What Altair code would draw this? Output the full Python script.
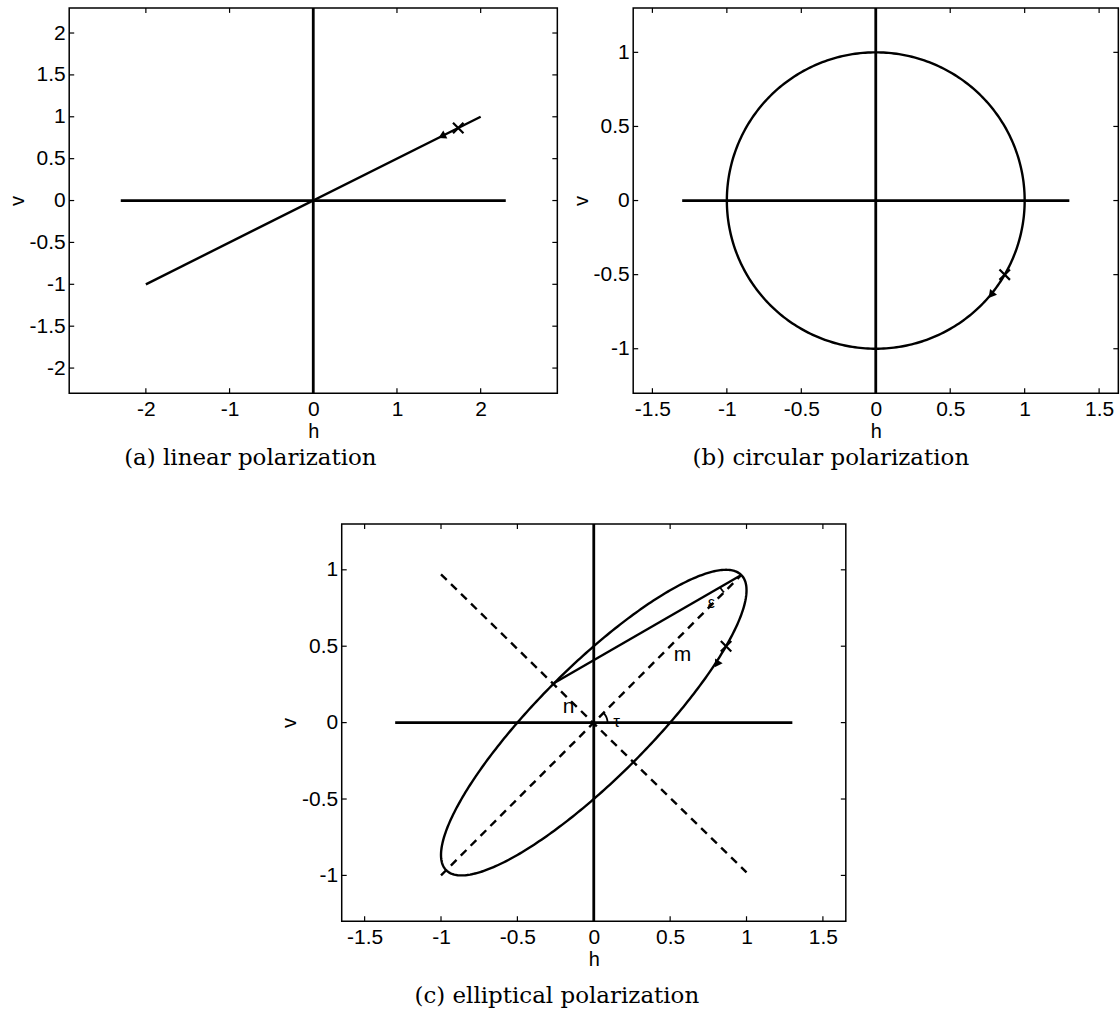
import math
import numpy as np
import pandas as pd
import altair as alt

LABEL_FONT = "Liberation Sans"
CAPTION_FONT = "DejaVu Serif"
INK = "black"
MINUS = "replace(datum.label, '\u2212', '-')"

# ---------------- (a) linear polarization: h = 2 cos t, v = cos t ----------------
a_line_h = [-2.0, 2.0]
a_line_v = [-1.0, 1.0]
a_axis_extent = 2.3
a_cross = (1.732, 0.866)
a_arrow = (1.55, 0.775)
a_arrow_dir = (-2.0, -1.0)
a_xdomain = [-2.916, 2.916]
a_ydomain = [-2.3, 2.3]
a_xticks = [-2, -1, 0, 1, 2]
a_yticks = [-2, -1.5, -1, -0.5, 0, 0.5, 1, 1.5, 2]

# ---------------- (b) circular polarization: h = cos t, v = cos(t - 90 deg) ----------------
b_amp = (1.0, 1.0)
b_phase_deg = 90.0
b_axis_extent = 1.3
b_cross = (0.866, -0.5)
b_arrow = (0.78, -0.63)
b_arrow_dir = (-0.63, -0.78)
b_xdomain = [-1.629, 1.629]
b_ydomain = [-1.3, 1.3]
b_xticks = [-1.5, -1, -0.5, 0, 0.5, 1, 1.5]
b_yticks = [-1, -0.5, 0, 0.5, 1]

# ---------------- (c) elliptical polarization: h = cos t, v = cos(t - 30 deg) ----------------
c_amp = (1.0, 1.0)
c_phase_deg = 30.0
c_axis_extent = 1.3
c_major_h = [-1.0, 0.966]
c_major_v = [-1.0, 0.966]
c_minor_h = [-1.0, 1.0]
c_minor_v = [0.97, -0.98]
c_chord_h = [-0.259, 0.966]
c_chord_v = [0.259, 0.966]
c_cross = (0.866, 0.5)
c_arrow = (0.81, 0.39)
c_arrow_dir = (-0.59, -0.91)
c_labels = ["m", "n", "\u03c4", "\u03b5"]
c_label_h = [0.58, -0.165, 0.15, 0.77]
c_label_v = [0.44, 0.105, 0.005, 0.78]
c_label_size = [21, 21, 17, 16]
c_tau_arc = (0.09, 0.0, 45.0)     # radius, start and end angle (deg) about the origin
c_eps_arc = (0.16, 210.0, 225.0)  # radius, start and end angle (deg) about the major-axis end
c_xdomain = [-1.65, 1.65]
c_ydomain = [-1.3, 1.3]
c_xticks = [-1.5, -1, -0.5, 0, 0.5, 1, 1.5]
c_yticks = [-1, -0.5, 0, 0.5, 1]

CURVE_W = 2.4
CROSS_W = 2.8


def heading(d):
    """Clockwise rotation (deg) that turns an upward triangle toward data direction d."""
    return math.degrees(math.atan2(d[0], d[1])) % 360


def trace(amp, phase_deg):
    t = np.radians(np.arange(0, 361, 1.0))
    return pd.DataFrame({
        "h": amp[0] * np.cos(t),
        "v": amp[1] * np.cos(t - np.radians(phase_deg)),
        "i": np.arange(len(t)),
    })


def arc(center, spec):
    r, a0, a1 = spec
    ang = np.radians(np.linspace(a0, a1, 12))
    return pd.DataFrame({
        "h": center[0] + r * np.cos(ang),
        "v": center[1] + r * np.sin(ang),
        "i": np.arange(len(ang)),
    })


def panel(W, H, xdom, ydom, xticks, yticks, extent, draw, caption, cap_dx, cap_offset):
    xs = alt.Scale(domain=xdom, nice=False, zero=False)
    ys = alt.Scale(domain=ydom, nice=False, zero=False)
    xaxis = alt.Axis(
        values=xticks, title="h", grid=False, domain=False, ticks=False, tickSize=0,
        format="~g", labelExpr=MINUS,
        labelFont=LABEL_FONT, labelFontSize=21, labelColor=INK, labelPadding=22,
        labelBaseline="alphabetic", labelFlush=False, labelOverlap=False,
        titleFont=LABEL_FONT, titleFontSize=20, titleFontWeight="normal", titleColor=INK,
        titleBaseline="alphabetic", titleY=44,
    )
    yaxis = alt.Axis(
        values=yticks, title="v", grid=False, domain=False, ticks=False, tickSize=0,
        format="~g", labelExpr=MINUS,
        labelFont=LABEL_FONT, labelFontSize=21, labelColor=INK, labelPadding=4,
        labelAlign="right", labelBaseline="middle", labelFlush=False, labelOverlap=False,
        titleFont=LABEL_FONT, titleFontSize=20, titleFontWeight="normal", titleColor=INK,
        titleAngle=270, titleBaseline="middle", titleAlign="center", titleX=-52, titleY=H / 2,
    )

    def X(f):
        return alt.X(f, type="quantitative", scale=xs, axis=xaxis)

    def Y(f):
        return alt.Y(f, type="quantitative", scale=ys, axis=yaxis)

    layers = []
    # coordinate cross through the origin
    layers.append(
        alt.Chart(pd.DataFrame({"x": [-extent], "x2": [extent], "y": [0.0]}))
        .mark_rule(color=INK, strokeWidth=CROSS_W)
        .encode(x=X("x"), x2="x2", y=Y("y"))
    )
    layers.append(
        alt.Chart(pd.DataFrame({"x": [0.0], "y": [ydom[0]], "y2": [ydom[1]]}))
        .mark_rule(color=INK, strokeWidth=CROSS_W)
        .encode(x=X("x"), y=Y("y"), y2="y2")
    )
    layers += draw(X, Y)

    # inward tick marks on all four sides of the box
    tx = pd.DataFrame({"t": xticks})
    ty = pd.DataFrame({"t": yticks})
    tick = dict(color=INK, strokeWidth=1.2)
    layers.append(alt.Chart(tx).mark_rule(**tick).encode(x=X("t"), y=alt.value(H), y2=alt.value(H - 5)))
    layers.append(alt.Chart(tx).mark_rule(**tick).encode(x=X("t"), y=alt.value(0), y2=alt.value(5)))
    layers.append(alt.Chart(ty).mark_rule(**tick).encode(y=Y("t"), x=alt.value(0), x2=alt.value(5)))
    layers.append(alt.Chart(ty).mark_rule(**tick).encode(y=Y("t"), x=alt.value(W), x2=alt.value(W - 5)))

    return alt.layer(*layers).properties(
        width=W, height=H,
        title=alt.TitleParams(
            text=caption, orient="bottom", anchor="middle", font=CAPTION_FONT,
            fontSize=23, fontWeight="normal", color=INK, dx=cap_dx, offset=cap_offset,
        ),
    )


def markers(X, Y, cross, arrow, arrow_dir):
    cross_df = pd.DataFrame({"h": [cross[0]], "v": [cross[1]]})
    arrow_df = pd.DataFrame({"h": [arrow[0]], "v": [arrow[1]]})
    return [
        alt.Chart(cross_df)
        .mark_point(shape="M-1,-1L1,1M-1,1L1,-1", filled=False, color=INK, strokeWidth=2.2, size=110, opacity=1)
        .encode(x=X("h"), y=Y("v")),
        alt.Chart(arrow_df)
        .mark_point(shape="triangle", filled=True, color=INK, size=80, opacity=1)
        .encode(x=X("h"), y=Y("v"), angle=alt.value(heading(arrow_dir))),
    ]


def draw_a(X, Y):
    line = pd.DataFrame({"h": a_line_h, "v": a_line_v})
    return [
        alt.Chart(line).mark_line(color=INK, strokeWidth=CURVE_W).encode(x=X("h"), y=Y("v")),
        *markers(X, Y, a_cross, a_arrow, a_arrow_dir),
    ]


def draw_b(X, Y):
    return [
        alt.Chart(trace(b_amp, b_phase_deg)).mark_line(color=INK, strokeWidth=CURVE_W)
        .encode(x=X("h"), y=Y("v"), order="i:Q"),
        *markers(X, Y, b_cross, b_arrow, b_arrow_dir),
    ]


def draw_c(X, Y):
    dashed = pd.DataFrame({
        "h": c_major_h + c_minor_h,
        "v": c_major_v + c_minor_v,
        "axis": ["major", "major", "minor", "minor"],
    })
    chord = pd.DataFrame({"h": c_chord_h, "v": c_chord_v})
    labels = pd.DataFrame({"txt": c_labels, "h": c_label_h, "v": c_label_v, "size": c_label_size})
    major_end = (c_chord_h[1], c_chord_v[1])
    return [
        alt.Chart(dashed).mark_line(color=INK, strokeWidth=2.4, strokeDash=[8, 6])
        .encode(x=X("h"), y=Y("v"), detail="axis:N"),
        alt.Chart(trace(c_amp, c_phase_deg)).mark_line(color=INK, strokeWidth=CURVE_W)
        .encode(x=X("h"), y=Y("v"), order="i:Q"),
        alt.Chart(chord).mark_line(color=INK, strokeWidth=CURVE_W).encode(x=X("h"), y=Y("v")),
        alt.Chart(arc((0.0, 0.0), c_tau_arc)).mark_line(color=INK, strokeWidth=1.8)
        .encode(x=X("h"), y=Y("v"), order="i:Q"),
        alt.Chart(arc(major_end, c_eps_arc)).mark_line(color=INK, strokeWidth=1.8)
        .encode(x=X("h"), y=Y("v"), order="i:Q"),
        alt.Chart(labels).mark_text(font=LABEL_FONT, color=INK, align="center", baseline="middle")
        .encode(x=X("h"), y=Y("v"), text="txt:N", size=alt.Size("size:Q", scale=None, legend=None)),
        *markers(X, Y, c_cross, c_arrow, c_arrow_dir),
    ]


pa = panel(489, 386, a_xdomain, a_ydomain, a_xticks, a_yticks, a_axis_extent, draw_a,
           "(a) linear polarization", -63, 6)
pb = panel(486, 386, b_xdomain, b_ydomain, b_xticks, b_yticks, b_axis_extent, draw_b,
           "(b) circular polarization", -45, 6)
pc = panel(505, 398, c_xdomain, c_ydomain, c_xticks, c_yticks, c_axis_extent, draw_c,
           "(c) elliptical polarization", -37, 16)

top = alt.hconcat(pa, pb, spacing=11)
chart = (
    alt.vconcat(top, pc, spacing=50, center=True)
    .properties(
        padding={"left": 6, "top": 4, "right": 0, "bottom": 0},
        autosize=alt.AutoSizeParams(type="pad"),
        background="white",
    )
    .configure_view(stroke=INK, strokeWidth=1.5)
)

chart.save("out.html", embed_options={"renderer": "svg", "actions": False})
